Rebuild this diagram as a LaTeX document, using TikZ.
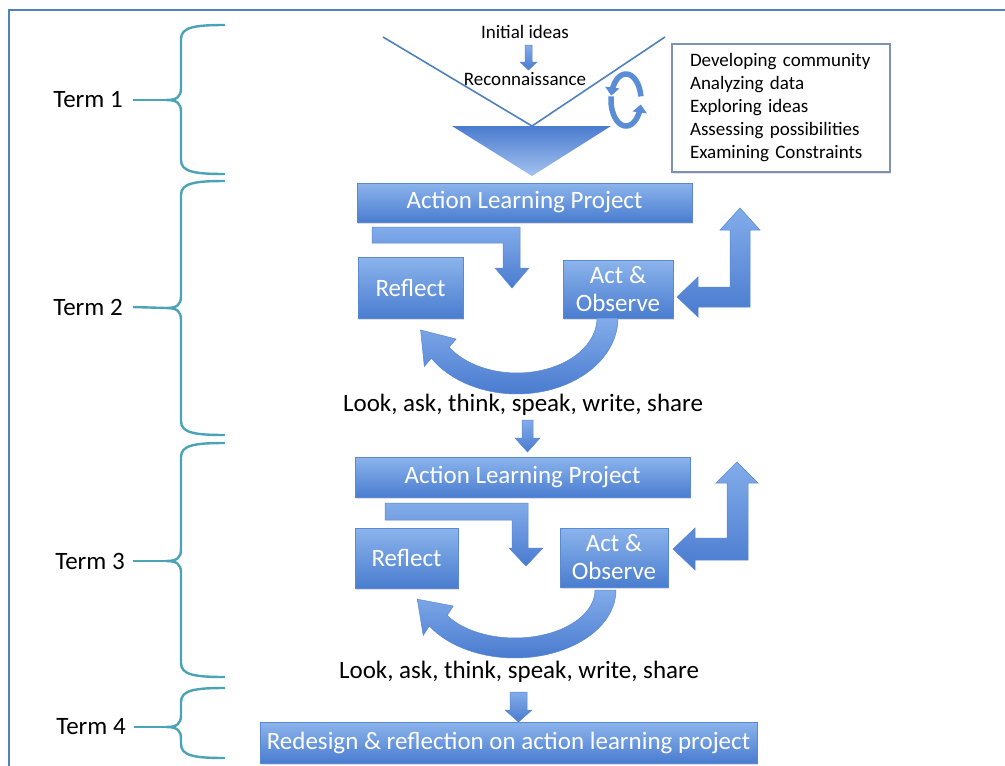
\documentclass[tikz,border=0pt]{standalone}
\usepackage{fontspec}
\setmainfont{Carlito}
\usetikzlibrary{arrows.meta,shadows}
\definecolor{frameblue}{HTML}{4F81BD}
\definecolor{braceteal}{HTML}{4BA3B6}
\definecolor{boxtop}{HTML}{8CB4EC}
\definecolor{boxbot}{HTML}{4A7DD0}
\definecolor{arrtop}{HTML}{82ACEA}
\definecolor{arrbot}{HTML}{4A7BCF}
\definecolor{boxedge}{HTML}{5A88D2}
\definecolor{listedge}{HTML}{7E91B0}
\definecolor{arrowmid}{HTML}{5B8CD6}
\definecolor{tritop}{HTML}{4A7BCF}
\definecolor{tribot}{HTML}{A4C3F0}
\newcommand{\termbrace}[3]{%
  \draw[bracepath] (225,#1) .. controls (195,#1) and (181,{#1+2}) .. (181,{#1+14})
    -- (181,{#2-12}) .. controls (181,{#2-3}) and (177,#2) .. (166,#2)
    .. controls (177,#2) and (181,{#2+3}) .. (181,{#2+12})
    -- (181,{#3-14}) .. controls (181,{#3-2}) and (195,#3) .. (225,#3);}
\begin{document}
\begin{tikzpicture}[x=1pt,y=-1pt]
\tikzset{
 bluebox/.style={draw=boxedge, line width=0.6pt, top color=boxtop, bottom color=boxbot,
   text=white, font=\fontsize{25}{28}\selectfont, inner sep=0pt, align=center,
   drop shadow={opacity=0.25, shadow xshift=1pt, shadow yshift=-2pt}},
 blockarrow/.style={draw=boxedge, line width=0.5pt, top color=arrtop, bottom color=arrbot},
 bigtext/.style={font=\fontsize{25}{28}\selectfont, inner sep=0pt},
 smalltext/.style={font=\fontsize{19}{23}\selectfont, inner sep=0pt},
 bracepath/.style={draw=braceteal, line width=2.4pt},
 circarrow/.style={line width=5.5pt, draw=arrowmid, -{Triangle[width=14pt,length=8pt]}},
}
\useasboundingbox (0,0) rectangle (1005,766);
\fill[white] (0,0) rectangle (1005,766);
% frame
\draw[frameblue, line width=1.5pt] (9,766) -- (9,10) -- (1005,10);

% term labels and braces
\node[bigtext] (t1) at (88,100) {Term 1};
\node[bigtext] (t2) at (88,307) {Term 2};
\node[bigtext] (t3) at (90,561) {Term 3};
\node[bigtext] (t4) at (91,727) {Term 4};
\coordinate (b1) at (166,100);
\coordinate (b2) at (166,308);
\coordinate (b3) at (166,561);
\coordinate (b4) at (166,727);
\termbrace{25}{100}{174}
\termbrace{181}{308}{435}
\termbrace{443}{561}{677}
\termbrace{688}{727}{758}
\draw[bracepath] ([xshift=10pt]t1.east) -- (b1);
\draw[bracepath] ([xshift=10pt]t2.east) -- (b2);
\draw[bracepath] ([xshift=8pt]t3.east) -- (b3);
\draw[bracepath] ([xshift=8pt]t4.east) -- (b4);

% funnel
\draw[frameblue, line width=1.6pt] (383,37) -- (532,126) -- (665,37);
\shade[top color=tritop, bottom color=tribot] (452,126) -- (611,126) -- (532,176) -- cycle;
\node[smalltext] (init) at (525,32) {Initial ideas};
\shade[blockarrow] (525,45) -- (532,45) -- (532,62) -- (537,62) -- (528.5,70) -- (520,62) -- (525,62) -- cycle;
\node[smalltext] (recon) at (525,79) {Reconnaissance};
\draw[circarrow] plot[domain=-8:-170, samples=30] ({626+15*cos(\x)},{100+26*sin(\x)});
\draw[circarrow] plot[domain=188:10, samples=30] ({626+15*cos(\x)},{100+26*sin(\x)});

% list box
\node[draw=listedge, line width=1.2pt, text width=182pt, inner xsep=18pt, inner ysep=6pt,
  minimum height=128pt, align=left, font=\fontsize{19}{23}\selectfont,
  drop shadow={opacity=0.2, shadow xshift=1pt, shadow yshift=-1.5pt}, fill=white] (ideas) at (781,108)
  {Developing community\\Analyzing data\\Exploring ideas\\Assessing possibilities\\Examining Constraints};

% ---- Term 2 cycle
\node[bluebox, minimum width=335pt, minimum height=39pt] (alp1) at (524.5,202.5) {Action Learning Project};
\node[bluebox, minimum width=105pt, minimum height=61pt] (refl1) at (410.5,287.5) {Reflect};
\node[bluebox, minimum width=110pt, minimum height=58pt] (act1) at (618,289) {Act \&\\Observe};
\shade[blockarrow] (372,227) -- (520,227) -- (520,268) -- (529,268) -- (512,288) -- (495,268)
  -- (503,268) -- (503,243) -- (372,243) -- cycle;
\shade[blockarrow] (740,208) -- (760,230) -- (750,230) -- (750,307) -- (698,307) -- (698,317)
  -- (677,297) -- (698,277) -- (698,287) -- (730,287) -- (730,230) -- (720,230) -- cycle;
\shade[blockarrow] plot[domain=0:148, samples=40] ({517+101*cos(\x)},{318+76*sin(\x)})
  -- (424.3,366.4) -- (420.6,330) -- (456.1,339)
  -- plot[domain=148:0, samples=40] ({517+80*cos(\x)},{318+55*sin(\x)}) -- cycle;
\node[bigtext] (look1) at (523,405) {Look, ask, think, speak, write, share};
\shade[blockarrow] (522,420) -- (533,420) -- (533,438) -- (540,438) -- (527.5,452) -- (515,438)
  -- (522,438) -- cycle;

% ---- Term 3 cycle
\node[bluebox, minimum width=335pt, minimum height=40pt] (alp2) at (522.5,477) {Action Learning Project};
\node[bluebox, minimum width=103pt, minimum height=60pt] (refl2) at (406.5,558) {Reflect};
\node[bluebox, minimum width=108pt, minimum height=59pt] (act2) at (614,557.5) {Act \&\\Observe};
\shade[blockarrow] (385,503) -- (528,503) -- (528,548) -- (543,548) -- (526,566) -- (509,548)
  -- (512,548) -- (512,520) -- (385,520) -- cycle;
\shade[blockarrow] (737,462) -- (758,483) -- (748,483) -- (748,560) -- (695,560) -- (695,570)
  -- (673,549) -- (695,528) -- (695,538) -- (727,538) -- (727,483) -- (716,483) -- cycle;
\shade[blockarrow] plot[domain=0:148, samples=40] ({515+101*cos(\x)},{590+68*sin(\x)})
  -- (423.2,635.4) -- (417.3,599.2) -- (453.2,606)
  -- plot[domain=148:0, samples=40] ({515+80*cos(\x)},{590+48*sin(\x)}) -- cycle;
\node[bigtext] (look2) at (519,672) {Look, ask, think, speak, write, share};
\shade[blockarrow] (510,692) -- (527,692) -- (527,710) -- (532,710) -- (518.5,722) -- (505,710)
  -- (510,710) -- cycle;

% ---- Term 4
\node[bluebox, minimum width=497pt, minimum height=41pt] (redesign) at (508.5,742.5)
  {Redesign \& reflection on action learning project};
\end{tikzpicture}
\end{document}
